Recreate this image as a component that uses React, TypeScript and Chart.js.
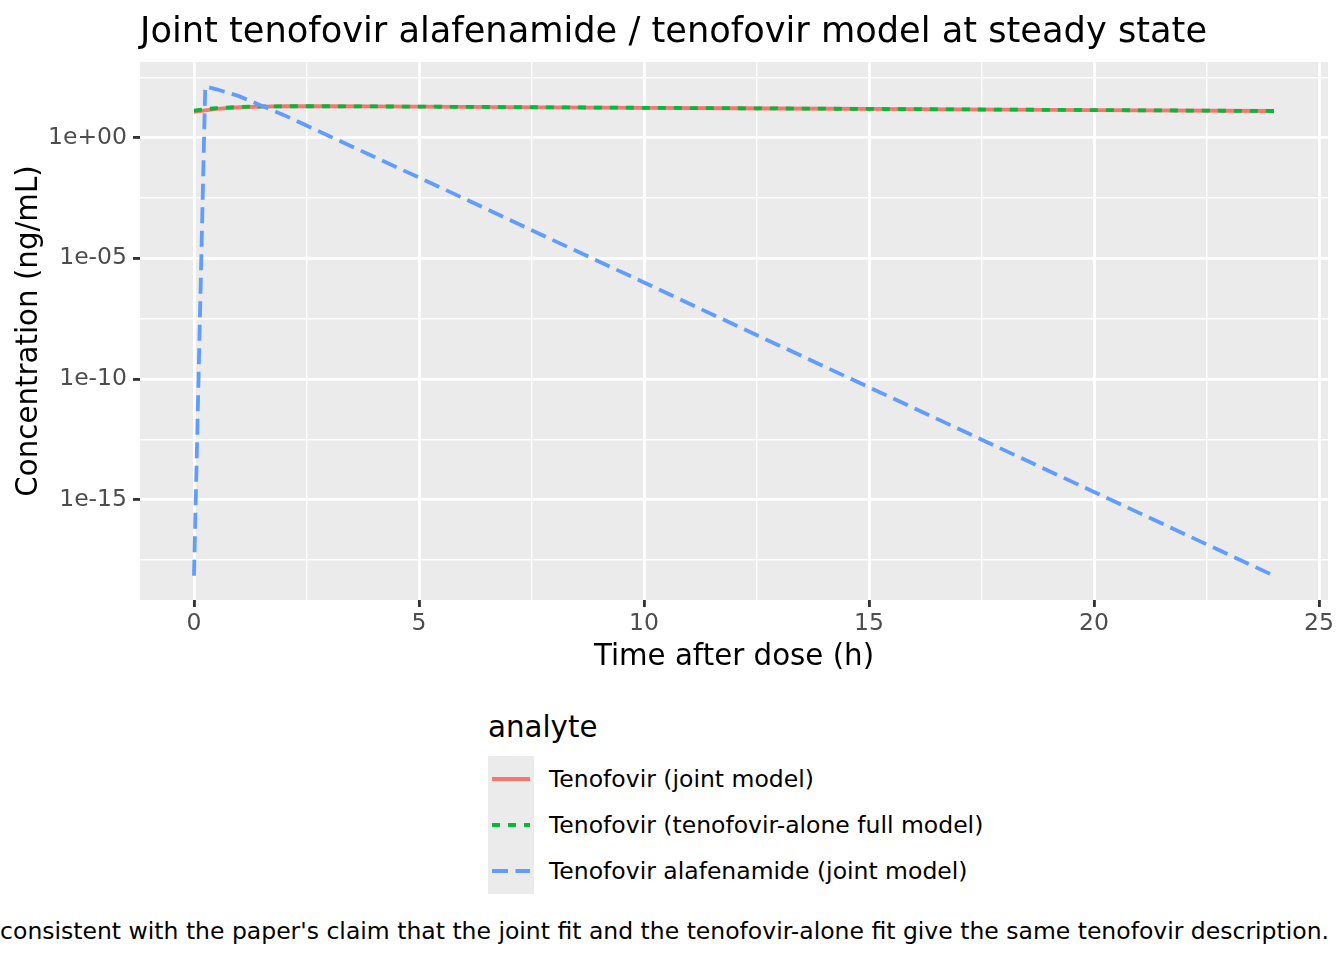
import React, { useEffect, useRef } from 'react';
import { Chart, registerables } from 'chart.js';

Chart.register(...registerables);

// time grid (h) shared by all three curves
const timeHours = [0, 0.25, 0.5, 1, 1.5, 2, 3, 4, 5, 6, 8, 10, 12, 16, 20, 24];

// concentrations (ng/mL)
const tenofovirJoint = [11.5, 13.5, 15.5, 18, 19.3, 19.8, 19.8, 19.5, 19.1, 18.7, 17.9, 17.1, 16.4, 15.0, 13.8, 12.6];
const tenofovirAlone = [13.2, 15, 16.5, 18.5, 19.5, 19.8, 19.8, 19.5, 19.1, 18.7, 17.9, 17.1, 16.4, 15.0, 13.8, 12.6];
const tafJoint = [7.1e-19, 132, 100, 52, 21, 8.5, 1.17, 0.16, 0.022, 3.0e-3, 5.4e-5, 1.0e-6, 1.8e-8, 6.2e-12, 2.1e-15, 7.1e-19];

const seriesLabels = [
    'Tenofovir (joint model)',
    'Tenofovir (tenofovir-alone full model)',
    'Tenofovir alafenamide (joint model)',
];

const xMajorTicks = [0, 5, 10, 15, 20, 25];
const xMajorLabels = ['0', '5', '10', '15', '20', '25'];
const xMinorTicks = [2.5, 7.5, 12.5, 17.5, 22.5];

const yMajorTicks = [1, 1e-5, 1e-10, 1e-15];
const yMajorLabels = ['1e+00', '1e-05', '1e-10', '1e-15'];
const yMinorTicks = [316.23, 3.1623e-3, 3.1623e-8, 3.1623e-13, 3.1623e-18];

const COLORS = ['#F8766D', '#00BA38', '#619CFF'];
const DASHES: number[][] = [[], [8, 8], [16, 7.5]];
const LINE_W = 3.8;
const FONT = 'DejaVu Sans';

const findMajor = (majors: number[], v: number, log: boolean) =>
    majors.findIndex((m) => (log ? Math.abs(Math.log10(m) - Math.log10(v)) < 1e-6 : Math.abs(m - v) < 1e-9));

const panelBackground = {
    id: 'panelBackground',
    beforeDraw(chart: Chart) {
        const { ctx, chartArea } = chart;
        ctx.save();
        ctx.fillStyle = '#EBEBEB';
        ctx.fillRect(chartArea.left, chartArea.top, chartArea.right - chartArea.left, chartArea.bottom - chartArea.top);
        ctx.restore();
    },
};

const ConcChart: React.FC = () => {
    const chartRef = useRef<HTMLCanvasElement>(null);
    const chartInstanceRef = useRef<Chart | null>(null);

    useEffect(() => {
        if (!chartRef.current) return;
        const ctx = chartRef.current.getContext('2d');
        if (!ctx) return;

        const series = [tenofovirJoint, tenofovirAlone, tafJoint];
        const datasets = series.map((vals, i) => ({
            label: seriesLabels[i],
            data: timeHours.map((t, j) => ({ x: t, y: vals[j] })),
            borderColor: COLORS[i],
            borderWidth: LINE_W,
            borderDash: DASHES[i],
            borderCapStyle: 'butt' as const,
            pointRadius: 0,
            tension: 0,
            fill: false,
            order: 3 - i, // blue on top, like ggplot's layer order
        }));

        const tickFont = { family: FONT, size: 23.5 };
        const titleFont = { family: FONT, size: 29.3 };

        chartInstanceRef.current = new Chart(ctx, {
            type: 'line',
            data: { datasets },
            options: {
                animation: false,
                responsive: true,
                maintainAspectRatio: false,
                layout: { padding: { left: 0, top: 62, right: 16, bottom: 0 } },
                plugins: {
                    legend: { display: false },
                    title: { display: false },
                    tooltip: { enabled: false },
                },
                scales: {
                    x: {
                        type: 'linear',
                        min: -1.2,
                        max: 25.2,
                        afterBuildTicks: (scale: any) => {
                            scale.ticks = [...xMajorTicks, ...xMinorTicks].sort((a, b) => a - b).map((v) => ({ value: v }));
                        },
                        afterFit: (scale: any) => {
                            scale.height = 90;
                        },
                        border: { display: false },
                        grid: {
                            color: '#FFFFFF',
                            lineWidth: (c: any) => (findMajor(xMajorTicks, c.tick.value, false) >= 0 ? 2.84 : 1.42),
                            tickColor: (c: any) => (findMajor(xMajorTicks, c.tick.value, false) >= 0 ? '#333333' : 'rgba(0,0,0,0)'),
                            tickLength: 7,
                            tickWidth: 2.84,
                        },
                        ticks: {
                            autoSkip: false,
                            maxRotation: 0,
                            padding: 3,
                            color: '#4D4D4D',
                            font: tickFont,
                            callback: (v: any) => {
                                const k = findMajor(xMajorTicks, Number(v), false);
                                return k >= 0 ? xMajorLabels[k] : '';
                            },
                        },
                        title: {
                            display: true,
                            text: 'Time after dose (h)',
                            color: '#000000',
                            font: titleFont,
                            padding: { top: 0, bottom: 15 },
                        },
                    },
                    y: {
                        type: 'logarithmic',
                        min: 7e-20,
                        max: 1.35e3,
                        afterBuildTicks: (scale: any) => {
                            scale.ticks = [...yMajorTicks, ...yMinorTicks].sort((a, b) => a - b).map((v) => ({ value: v }));
                        },
                        afterFit: (scale: any) => {
                            scale.width = 140;
                        },
                        border: { display: false },
                        grid: {
                            color: '#FFFFFF',
                            lineWidth: (c: any) => (findMajor(yMajorTicks, c.tick.value, true) >= 0 ? 2.84 : 1.42),
                            tickColor: (c: any) => (findMajor(yMajorTicks, c.tick.value, true) >= 0 ? '#333333' : 'rgba(0,0,0,0)'),
                            tickLength: 7,
                            tickWidth: 2.84,
                        },
                        ticks: {
                            autoSkip: false,
                            padding: 6,
                            color: '#4D4D4D',
                            font: tickFont,
                            callback: (v: any) => {
                                const k = findMajor(yMajorTicks, Number(v), true);
                                return k >= 0 ? yMajorLabels[k] : '';
                            },
                        },
                        title: {
                            display: true,
                            text: 'Concentration (ng/mL)',
                            color: '#000000',
                            font: titleFont,
                            padding: { top: 12, bottom: 0 },
                        },
                    },
                },
            },
            plugins: [panelBackground],
        });

        return () => {
            if (chartInstanceRef.current) {
                chartInstanceRef.current.destroy();
                chartInstanceRef.current = null;
            }
        };
    }, []);

    return <canvas ref={chartRef} />;
};

const LegendKey: React.FC<{ color: string; dash: number[] }> = ({ color, dash }) => (
    <svg width={46} height={46} style={{ display: 'block' }}>
        <line x1={4} x2={42} y1={23} y2={23} stroke={color} strokeWidth={LINE_W}
            strokeDasharray={dash.length ? dash.join(' ') : undefined} />
    </svg>
);

const App: React.FC = () => {
    useEffect(() => {
        document.body.style.margin = '0';
    }, []);

    const text = (size: number): React.CSSProperties => ({
        position: 'absolute',
        fontSize: size,
        lineHeight: `${size}px`,
        whiteSpace: 'nowrap',
        color: '#000000',
    });

    return (
        <div style={{ position: 'relative', width: 1344, height: 960, overflow: 'hidden', background: '#FFFFFF', fontFamily: FONT }}>
            <div style={{ position: 'absolute', left: 0, top: 0, width: 1344, height: 690 }}>
                <ConcChart />
            </div>
            <div style={{ ...text(35.2), left: 140, top: 12.4 }}>
                Joint tenofovir alafenamide / tenofovir model at steady state
            </div>

            <div style={{ ...text(29.3), left: 488, top: 713 }}>analyte</div>
            <div style={{ position: 'absolute', left: 488, top: 756, width: 46, background: '#EBEBEB' }}>
                {COLORS.map((c, i) => (
                    <LegendKey key={i} color={c} dash={DASHES[i]} />
                ))}
            </div>
            {seriesLabels.map((lab, i) => (
                <div key={lab} style={{ ...text(23.5), left: 549, top: 779 + i * 46 - 11.5 }}>{lab}</div>
            ))}

            <div style={{ ...text(23.5), right: 15, top: 920 }}>
                consistent with the paper's claim that the joint fit and the tenofovir-alone fit give the same tenofovir description.
            </div>
        </div>
    );
};

export default App;
